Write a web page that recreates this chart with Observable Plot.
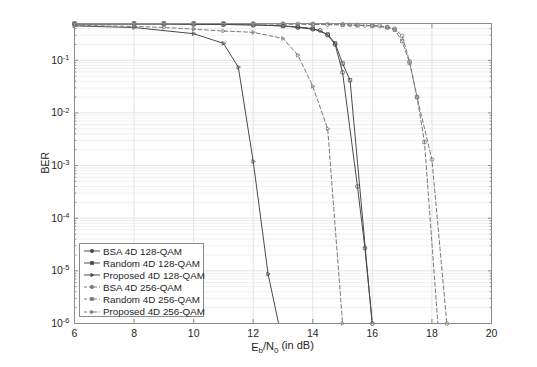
<!DOCTYPE html>
<html><head><meta charset="utf-8">
<script src="https://cdn.jsdelivr.net/npm/d3@7"></script>
<script src="https://cdn.jsdelivr.net/npm/@observablehq/plot@0.6"></script>
<style>
body{margin:0;background:#fff;}
#wrap{position:relative;width:537px;height:367px;font-family:"Liberation Sans",Arial,sans-serif;}
.legend{position:absolute;left:79px;top:243px;width:125px;height:74px;border:1px solid #8c8c8c;background:#fff;box-sizing:border-box;font-size:9.8px;color:#262626;padding-top:1px}
.legend .row{height:12.1px;display:flex;align-items:center;white-space:nowrap}
.legend svg{margin-left:3px;margin-right:2px;flex:none}
</style></head><body><div id="wrap"></div>
<script>
// ---- data ----
const xTicks = [6, 8, 10, 12, 14, 16, 18, 20];
const yTicks = [1e-6, 1e-5, 1e-4, 1e-3, 1e-2, 1e-1];
const yTickExp = ["-6", "-5", "-4", "-3", "-2", "-1"];
const seriesNames = ["BSA 4D 128-QAM", "Random 4D 128-QAM", "Proposed 4D 128-QAM",
                     "BSA 4D 256-QAM", "Random 4D 256-QAM", "Proposed 4D 256-QAM"];

const bsa128X = [6, 8, 9, 10, 11, 12, 13, 13.5, 14, 14.25, 14.5, 14.75, 15, 15.5, 15.75, 16];
const bsa128Y = [0.49, 0.49, 0.49, 0.48, 0.48, 0.47, 0.45, 0.42, 0.39, 0.37, 0.30, 0.20, 0.059, 4e-4, 2.7e-5, 1e-6];
const rnd128X = [6, 8, 9, 10, 11, 12, 13, 13.5, 14, 14.5, 14.75, 15, 15.25, 16];
const rnd128Y = [0.49, 0.49, 0.49, 0.49, 0.48, 0.47, 0.45, 0.43, 0.40, 0.31, 0.21, 0.087, 0.042, 9e-7];
const pro128X = [6, 8, 10, 11, 11.5, 12, 12.5, 13];
const pro128Y = [0.45, 0.42, 0.32, 0.21, 0.074, 1.2e-3, 8.7e-6, 4e-7];

const bsa256X = [6, 8, 9, 10, 11, 12, 13, 13.5, 14, 14.5, 15, 15.25, 15.5, 15.75, 16, 16.25, 16.5, 16.75, 17, 17.25, 17.5, 18, 18.5];
const bsa256Y = [0.5, 0.5, 0.5, 0.5, 0.5, 0.5, 0.49, 0.49, 0.49, 0.48, 0.48, 0.47, 0.47, 0.46, 0.46, 0.45, 0.43, 0.40, 0.29, 0.095, 0.02, 1.3e-3, 1e-6];
const rnd256X = [6, 8, 9, 10, 11, 12, 13, 14, 15, 15.5, 16, 16.5, 16.75, 17, 17.25, 17.5, 17.75, 18.25];
const rnd256Y = [0.5, 0.5, 0.5, 0.5, 0.5, 0.49, 0.49, 0.48, 0.47, 0.46, 0.45, 0.42, 0.38, 0.23, 0.09, 0.02, 2.8e-3, 4e-7];
const pro256X = [6, 8, 9, 10, 11, 12, 13, 13.5, 14, 14.5, 15];
const pro256Y = [0.46, 0.44, 0.42, 0.39, 0.36, 0.34, 0.26, 0.125, 0.032, 5e-3, 1e-6];

// ---- styles ----
const solid = "#4a4a4a", dashed = "#7a7a7a";
const triRight = {draw(ctx, size) {
  const r = Math.sqrt(size) * 0.62;
  ctx.moveTo(r, 0); ctx.lineTo(-r * 0.6, -r * 0.9); ctx.lineTo(-r * 0.6, r * 0.9); ctx.closePath();
}};
const series = [
  {name: seriesNames[0], x: bsa128X, y: bsa128Y, color: solid, dash: null, symbol: "circle"},
  {name: seriesNames[1], x: rnd128X, y: rnd128Y, color: solid, dash: null, symbol: "square"},
  {name: seriesNames[2], x: pro128X, y: pro128Y, color: solid, dash: null, symbol: triRight},
  {name: seriesNames[3], x: bsa256X, y: bsa256Y, color: dashed, dash: "4,2.5", symbol: "circle"},
  {name: seriesNames[4], x: rnd256X, y: rnd256Y, color: dashed, dash: "4,2.5", symbol: "square"},
  {name: seriesNames[5], x: pro256X, y: pro256Y, color: dashed, dash: "4,2.5", symbol: triRight}
];
const rows = s => s.x.map((x, i) => ({x, y: s.y[i]}));
const yMinor = d3.range(-6, 0).flatMap(e => d3.range(2, 10).map(m => m * Math.pow(10, e))).filter(v => v <= 0.5);

const marks = [
  Plot.gridY(yMinor, {stroke: "#f0f0f0", strokeOpacity: 1}),
  Plot.gridX(xTicks, {stroke: "#e4e4e4", strokeOpacity: 1}),
  Plot.gridY(yTicks, {stroke: "#e4e4e4", strokeOpacity: 1}),
];
for (const s of series) {
  marks.push(Plot.line(rows(s), {x: "x", y: "y", stroke: s.color, strokeWidth: 1, strokeDasharray: s.dash, clip: true}));
}
for (const s of series) {
  marks.push(Plot.dot(rows(s).filter(d => d.y >= 1e-6), {x: "x", y: "y", stroke: s.color, fill: "none", strokeWidth: 0.8, r: 1.9, symbol: () => s.symbol}));
}
marks.push(
  Plot.frame({stroke: "#8c8c8c"}),
  Plot.axisX({ticks: xTicks, anchor: "bottom", tickSize: -4, tickFormat: () => "", stroke: "#8c8c8c", label: null}),
  Plot.axisX({ticks: xTicks, anchor: "top", tickSize: -4, tickFormat: () => "", stroke: "#8c8c8c", label: null}),
  Plot.axisX({ticks: xTicks, anchor: "bottom", tickSize: 0, tickPadding: 6, fontSize: 10.5, fill: "#262626", label: null}),
  Plot.axisY({ticks: yTicks, anchor: "left", tickSize: -4, tickFormat: () => "", stroke: "#8c8c8c", label: null}),
  Plot.axisY({ticks: yTicks, anchor: "right", tickSize: -4, tickFormat: () => "", stroke: "#8c8c8c", label: null}),
  Plot.axisY({ticks: yMinor, anchor: "left", tickSize: -2.2, tickFormat: () => "", stroke: "#8c8c8c", label: null}),
  Plot.axisY({ticks: yMinor, anchor: "right", tickSize: -2.2, tickFormat: () => "", stroke: "#8c8c8c", label: null}),
  Plot.axisY({ticks: yTicks, anchor: "left", tickSize: 0, tickPadding: 5, fontSize: 10.5, fill: "#262626", label: null,
    tickFormat: d => "10^" + yTickExp[yTicks.indexOf(d)]}),
  Plot.text(["BER"], {frameAnchor: "left", dx: -29, rotate: -90, fontSize: 10.5, fill: "#262626"})
);

const chart = Plot.plot({
  width: 537, height: 367,
  marginLeft: 74, marginRight: 46, marginTop: 23, marginBottom: 44,
  style: {fontFamily: '"Liberation Sans", Arial, sans-serif', background: "#fff"},
  x: {type: "linear", domain: [6, 20]},
  y: {type: "log", domain: [1e-6, 0.5]},
  marks
});
const ns = "http://www.w3.org/2000/svg";
// superscript exponents on y tick labels
chart.querySelectorAll("text").forEach(t => {
  const m = t.textContent.match(/^10\^(-?\d+)$/);
  if (m) {
    t.textContent = "10";
    const ts = document.createElementNS(ns, "tspan");
    ts.setAttribute("dy", "-0.5em");
    ts.setAttribute("font-size", "7.5");
    ts.textContent = m[1];
    t.appendChild(ts);
  }
});
// x axis label with subscripts
const xs = chart.scale("x");
const lab = d3.select(chart).append("text")
  .attr("x", (xs.apply(6) + xs.apply(20)) / 2).attr("y", 351)
  .attr("text-anchor", "middle").attr("font-size", 11).attr("fill", "#262626");
lab.append("tspan").text("E");
lab.append("tspan").attr("dy", "0.3em").attr("font-size", 8).text("b");
lab.append("tspan").attr("dy", "-0.3em").text("/N");
lab.append("tspan").attr("dy", "0.3em").attr("font-size", 8).text("0");
lab.append("tspan").attr("dy", "-0.3em").text(" (in dB)");

const wrap = document.getElementById("wrap");
wrap.appendChild(chart);

// legend
const leg = document.createElement("div");
leg.className = "legend";
for (const s of series) {
  const row = document.createElement("div");
  row.className = "row";
  const sv = d3.create("svg").attr("width", 18).attr("height", 10);
  sv.append("line").attr("x1", 1).attr("x2", 17).attr("y1", 5).attr("y2", 5)
    .attr("stroke", s.color).attr("stroke-width", 1).attr("stroke-dasharray", s.dash ? "3,2" : null);
  const sym = typeof s.symbol === "string" ? (s.symbol === "circle" ? d3.symbolCircle : d3.symbolSquare) : s.symbol;
  sv.append("path").attr("d", d3.symbol(sym, 9)()).attr("transform", "translate(9,5)")
    .attr("fill", s.color).attr("stroke", s.color).attr("stroke-width", 0.8);
  row.appendChild(sv.node());
  const sp = document.createElement("span");
  sp.textContent = s.name;
  row.appendChild(sp);
  leg.appendChild(row);
}
wrap.appendChild(leg);
</script></body></html>
